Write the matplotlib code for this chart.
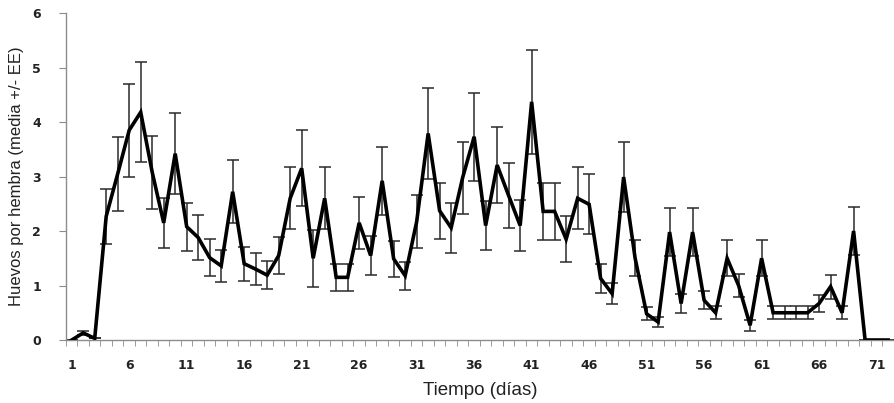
import matplotlib.pyplot as plt
import numpy as np

# días 1..72
dias = list(range(1, 73))
# huevos por hembra (media)
media = [0, 0.13, 0.03, 2.27, 3.05, 3.85, 4.18, 3.08, 2.15, 3.42,
         2.08, 1.88, 1.51, 1.36, 2.72, 1.40, 1.30, 1.19, 1.55, 2.60,
         3.15, 1.50, 2.60, 1.15, 1.15, 2.15, 1.55, 2.92, 1.49, 1.18,
         2.17, 3.79, 2.37, 2.06, 2.98, 3.73, 2.10, 3.21, 2.65, 2.10,
         4.37, 2.36, 2.36, 1.85, 2.60, 2.49, 1.13, 0.85, 2.99, 1.50,
         0.48, 0.33, 1.98, 0.67, 1.98, 0.73, 0.50, 1.50, 1.00, 0.27,
         1.50, 0.50, 0.50, 0.50, 0.50, 0.67, 0.98, 0.50, 2.00, 0,
         0, 0]
# error estándar
ee = [0, 0.03, 0, 0.50, 0.68, 0.85, 0.92, 0.67, 0.46, 0.75,
      0.44, 0.42, 0.34, 0.30, 0.58, 0.31, 0.29, 0.26, 0.34, 0.57,
      0.70, 0.52, 0.57, 0.25, 0.25, 0.48, 0.35, 0.63, 0.33, 0.26,
      0.49, 0.83, 0.52, 0.46, 0.66, 0.81, 0.45, 0.70, 0.59, 0.46,
      0.96, 0.52, 0.52, 0.42, 0.57, 0.55, 0.26, 0.19, 0.65, 0.33,
      0.12, 0.09, 0.44, 0.18, 0.44, 0.17, 0.12, 0.33, 0.21, 0.10,
      0.33, 0.12, 0.12, 0.12, 0.12, 0.15, 0.22, 0.12, 0.44, 0,
      0, 0]
etiquetas_x = list(range(1, 73, 5))

fig = plt.figure(figsize=(8.95, 4.03), dpi=100)
ax = fig.add_axes([0.0737, 0.1563, 0.925, 0.8114])

# barras de error
ax.errorbar(dias, media, yerr=ee, fmt='none', ecolor='#2a2a2a',
            elinewidth=1.1, capsize=4.5, capthick=1.1, zorder=2)
# línea de medias
ax.plot(dias, media, color='black', lw=2.6, solid_joinstyle='miter', zorder=3)

ax.set_xlim(0.5, 72.5)
ax.set_ylim(0, 6)
ax.set_xticks(etiquetas_x)
ax.set_xticks(np.arange(0.5, 73, 1), minor=True)
ax.tick_params(axis='x', which='major', length=0, pad=14,
               labelsize=9, labelcolor='#222222')
ax.tick_params(axis='x', which='minor', length=4, color='#8c8c8c',
               direction='out')
ax.set_yticks(range(0, 7))
ax.tick_params(axis='y', length=5, color='#8c8c8c', labelsize=9,
               labelcolor='#222222', pad=13)
for t in ax.get_xticklabels() + ax.get_yticklabels():
    t.set_fontweight('bold')

for s in ['top', 'right']:
    ax.spines[s].set_visible(False)
for s in ['left', 'bottom']:
    ax.spines[s].set_color('#8c8c8c')
    ax.spines[s].set_linewidth(1.0)

ax.set_xlabel('Tiempo (días)', family='Liberation Sans', fontsize=13.5,
              color='#222222', labelpad=7)
ax.set_ylabel('Huevos por hembra (media +/- EE)', family='Liberation Sans',
              fontsize=12, color='#222222', labelpad=6)

fig.savefig('out.png', dpi=100)
